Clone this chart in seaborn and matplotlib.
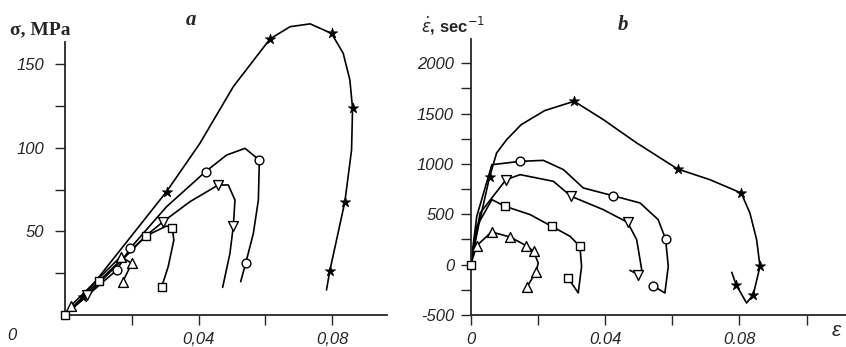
import matplotlib
matplotlib.use("Agg")
import matplotlib.pyplot as plt
import seaborn as sns

# panel a: stress vs strain (curve points, marker indices)
a_star_x = [0, 0.0055, 0.0304, 0.0404, 0.0504, 0.0614, 0.0674, 0.0734, 0.0798, 0.0833, 0.0853, 0.0861, 0.0858, 0.0838, 0.0813, 0.0793, 0.0783]
a_star_y = [0, 11, 73.7, 102.6, 136.5, 165, 172.3, 174, 168.3, 156.4, 140.4, 123.5, 98.6, 67.7, 44.8, 26.5, 15]
a_star_m = [1, 2, 5, 8, 11, 13, 15]

a_circ_x = [0, 0.0155, 0.0195, 0.0304, 0.0421, 0.0484, 0.0539, 0.0582, 0.0579, 0.0564, 0.0541, 0.0526]
a_circ_y = [0, 26.9, 39.8, 64.7, 85.7, 95.6, 99.6, 92.6, 68.7, 48.8, 30.9, 19.9]
a_circ_m = [1, 2, 4, 7, 10]

a_tdn_x = [0, 0.0067, 0.0245, 0.0294, 0.0374, 0.0459, 0.0489, 0.0509, 0.0504, 0.0494, 0.0472]
a_tdn_y = [0, 12, 47.8, 55.8, 67.7, 77.7, 77.7, 68.7, 53.2, 36.9, 16.5]
a_tdn_m = [1, 3, 5, 8]

a_sq_x = [0, 0.0102, 0.0242, 0.0304, 0.0321, 0.0326, 0.0309, 0.0289]
a_sq_y = [0, 20.3, 47.2, 53.2, 52.2, 44.8, 28.9, 16.5]
a_sq_m = [0, 1, 2, 4, 7]

a_tup_x = [0, 0.0017, 0.0167, 0.0200, 0.0173]
a_tup_y = [0, 5.4, 34.9, 30.9, 19.9]
a_tup_m = [1, 2, 3, 4]

# panel b: strain rate vs strain
b_star_x = [0, 0.0023, 0.0056, 0.0077, 0.0107, 0.0150, 0.0220, 0.0308, 0.0395, 0.0494, 0.0616, 0.0712, 0.0805, 0.0831, 0.0851, 0.0861, 0.0841, 0.0821, 0.0790, 0.0777]
b_star_y = [0, 381, 868, 1109, 1242, 1390, 1530, 1623, 1440, 1209, 950, 844, 712, 513, 248, -17, -298, -381, -199, -76]
b_star_m = [2, 7, 10, 12, 15, 16, 18]

b_circ_x = [0, 0.0018, 0.0063, 0.0147, 0.0216, 0.0276, 0.0335, 0.0423, 0.0504, 0.0558, 0.0580, 0.0588, 0.0578, 0.0542]
b_circ_y = [0, 480, 993, 1026, 1036, 944, 762, 685, 613, 447, 255, -17, -281, -209]
b_circ_m = [3, 7, 10, 13]

b_tdn_x = [0, 0.0028, 0.0105, 0.0147, 0.0246, 0.0299, 0.0395, 0.0467, 0.0494, 0.0509, 0.0499, 0.0474]
b_tdn_y = [0, 513, 844, 894, 828, 679, 546, 420, 248, -50, -99, -56]
b_tdn_m = [2, 5, 7, 10]

b_sq_x = [0, 0.0018, 0.0063, 0.0102, 0.0177, 0.0241, 0.0296, 0.0325, 0.0330, 0.0320, 0.0290]
b_sq_y = [0, 381, 646, 580, 497, 381, 281, 182, -17, -281, -132]
b_sq_m = [0, 3, 5, 7, 10]

b_tup_x = [0, 0.0018, 0.0062, 0.0117, 0.0165, 0.0187, 0.0201, 0.0194, 0.0167]
b_tup_y = [0, 189, 325, 275, 189, 132, 17, -76, -222]
b_tup_m = [1, 2, 3, 4, 5, 7, 8]

sns.set_style("ticks")
plt.rcParams["font.family"] = ["Liberation Sans", "DejaVu Sans"]


def draw(ax, xs, ys, marks, marker, size):
    sns.lineplot(x=xs, y=ys, ax=ax, sort=False, estimator=None, color="black", lw=1.2)
    mx = [xs[i] for i in marks]
    my = [ys[i] for i in marks]
    if marker == "*":
        sc = sns.scatterplot(x=mx, y=my, ax=ax, marker=marker, s=size, color="black",
                             edgecolor="black", linewidth=0.5, zorder=3)
    else:
        sc = sns.scatterplot(x=mx, y=my, ax=ax, marker=marker, s=size, facecolor="white",
                             edgecolor="black", linewidth=1.0, zorder=3)
    for c in sc.collections:
        c.set_clip_on(False)


fig = plt.figure(figsize=(8.46, 3.47), dpi=100)
ax1 = fig.add_axes([0.0768, 0.0922, 0.3806, 0.868])
ax2 = fig.add_axes([0.5564, 0.0922, 0.4436, 0.795])

draw(ax1, a_star_x, a_star_y, a_star_m, "*", 60)
draw(ax1, a_circ_x, a_circ_y, a_circ_m, "o", 40)
draw(ax1, a_tdn_x, a_tdn_y, a_tdn_m, "v", 50)
draw(ax1, a_sq_x, a_sq_y, a_sq_m, "s", 40)
draw(ax1, a_tup_x, a_tup_y, a_tup_m, "^", 50)

draw(ax2, b_star_x, b_star_y, b_star_m, "*", 60)
draw(ax2, b_circ_x, b_circ_y, b_circ_m, "o", 40)
draw(ax2, b_tdn_x, b_tdn_y, b_tdn_m, "v", 50)
draw(ax2, b_sq_x, b_sq_y, b_sq_m, "s", 40)
draw(ax2, b_tup_x, b_tup_y, b_tup_m, "^", 50)

for ax in (ax1, ax2):
    sns.despine(ax=ax)
    ax.spines["left"].set_linewidth(1.3)
    ax.spines["bottom"].set_linewidth(1.3)
    ax.tick_params(length=7, width=1.0, labelsize=12, pad=5)
    ax.set_xlabel("")
    ax.set_ylabel("")

ax1.set_xlim(0, 0.0964)
ax1.set_ylim(0, 180)
ax1.spines["left"].set_bounds(0, 163)
ax1.set_xticks([0.02, 0.04, 0.06, 0.08])
ax1.set_xticklabels(["", "0,04", "", "0,08"], style="italic")
ax1.set_yticks([25, 50, 75, 100, 125, 150])
ax1.set_yticklabels(["", "50", "", "100", "", "150"], style="italic")
ax1.tick_params(axis="y", pad=8)

ax2.set_xlim(0, 0.1117)
ax2.set_ylim(-500, 2240)
ax2.set_xticks([0, 0.02, 0.04, 0.06, 0.08, 0.10])
ax2.set_xticklabels(["0", "", "0.04", "", "0.08", ""], style="italic")
ax2.set_yticks(list(range(-500, 2001, 250)))
ax2.set_yticklabels([str(v) if v % 500 == 0 else "" for v in range(-500, 2001, 250)],
                    style="italic")

# labels placed in figure pixels of the original layout
W, H = 846, 347
fig.text(12 / W, 1 - 335 / H, "0", fontsize=12, style="italic", ha="center", va="center")
fig.text(10 / W, 1 - 30 / H, "σ, MPa", fontsize=14, fontweight="bold",
         family="Liberation Serif", ha="left", va="center")
fig.text(191 / W, 1 - 20 / H, "a", fontsize=15, fontweight="bold", style="italic",
         family="Liberation Serif", ha="center", va="center")
fig.text(421 / W, 1 - 26 / H, r"$\dot{\varepsilon}$, sec$^{-1}$", fontsize=12,
         fontweight="bold", ha="left", va="center")
fig.text(623 / W, 1 - 25 / H, "b", fontsize=15, fontweight="bold", style="italic",
         family="Liberation Serif", ha="center", va="center")
fig.text(836 / W, 1 - 330 / H, "ε", fontsize=15, style="italic", ha="center", va="center")

fig.savefig("out.png", dpi=100)
